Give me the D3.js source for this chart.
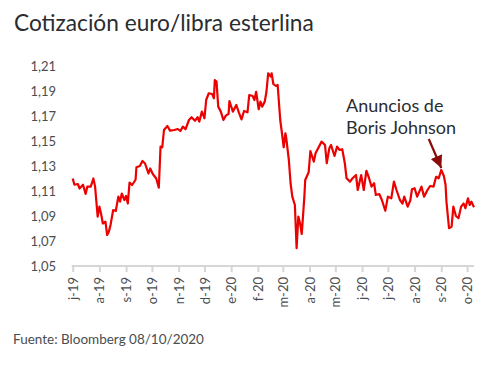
<!DOCTYPE html>
<html>
<head>
<meta charset="utf-8">
<script src="https://cdn.jsdelivr.net/npm/d3@7"></script>
<style>
  html, body { margin: 0; padding: 0; background: #fff; }
  svg text { font-family: Lato, "Open Sans", sans-serif; }
</style>
</head>
<body>
<div id="viz"></div>
<script>
// EUR/GBP quote (date, value)
const RATE_SERIES = [
  ["2019-07-01", 1.120], ["2019-07-03", 1.115], ["2019-07-07", 1.1156], ["2019-07-09", 1.112],
  ["2019-07-13", 1.115], ["2019-07-16", 1.1076], ["2019-07-18", 1.1135], ["2019-07-22", 1.1135],
  ["2019-07-25", 1.120], ["2019-07-27", 1.1135], ["2019-07-30", 1.0895], ["2019-08-01", 1.0975],
  ["2019-08-03", 1.0916], ["2019-08-05", 1.084], ["2019-08-08", 1.0855], ["2019-08-10", 1.0748],
  ["2019-08-12", 1.0775], ["2019-08-14", 1.083], ["2019-08-17", 1.0948], ["2019-08-20", 1.094],
  ["2019-08-23", 1.1055], ["2019-08-25", 1.1015], ["2019-08-27", 1.108], ["2019-08-30", 1.1028],
  ["2019-09-01", 1.106], ["2019-09-03", 1.100], ["2019-09-05", 1.1167], ["2019-09-08", 1.1148],
  ["2019-09-12", 1.119], ["2019-09-13", 1.129], ["2019-09-17", 1.130], ["2019-09-20", 1.134],
  ["2019-09-23", 1.132], ["2019-09-27", 1.124], ["2019-09-29", 1.128], ["2019-10-02", 1.1236],
  ["2019-10-06", 1.120], ["2019-10-09", 1.1127], ["2019-10-11", 1.1455], ["2019-10-13", 1.145],
  ["2019-10-15", 1.1588], ["2019-10-19", 1.162], ["2019-10-22", 1.1583], ["2019-10-27", 1.1588],
  ["2019-10-31", 1.1596], ["2019-11-03", 1.158], ["2019-11-06", 1.1615], ["2019-11-09", 1.1594],
  ["2019-11-13", 1.1668], ["2019-11-16", 1.169], ["2019-11-20", 1.1662], ["2019-11-23", 1.169],
  ["2019-11-25", 1.1655], ["2019-11-28", 1.1735], ["2019-12-01", 1.1682], ["2019-12-03", 1.1828],
  ["2019-12-06", 1.1882], ["2019-12-10", 1.1876], ["2019-12-12", 1.1842], ["2019-12-13", 1.1988],
  ["2019-12-15", 1.1975], ["2019-12-17", 1.1775], ["2019-12-20", 1.1735], ["2019-12-23", 1.1668],
  ["2019-12-26", 1.1705], ["2019-12-29", 1.1716], ["2019-12-30", 1.182], ["2020-01-03", 1.1735],
  ["2020-01-07", 1.1788], ["2020-01-10", 1.1727], ["2020-01-13", 1.1673], ["2020-01-16", 1.174],
  ["2020-01-20", 1.173], ["2020-01-22", 1.1868], ["2020-01-26", 1.186], ["2020-01-28", 1.1828],
  ["2020-01-30", 1.1894], ["2020-02-02", 1.1754], ["2020-02-04", 1.1815], ["2020-02-06", 1.1775],
  ["2020-02-09", 1.1815], ["2020-02-11", 1.1894], ["2020-02-13", 1.2042], ["2020-02-16", 1.2015],
  ["2020-02-17", 1.2042], ["2020-02-19", 1.1956], ["2020-02-22", 1.194], ["2020-02-24", 1.1948],
  ["2020-02-27", 1.1668], ["2020-02-29", 1.1562], ["2020-03-02", 1.145], ["2020-03-04", 1.1562],
  ["2020-03-05", 1.1522], ["2020-03-08", 1.1348], ["2020-03-10", 1.1162], ["2020-03-12", 1.1055],
  ["2020-03-15", 1.0988], ["2020-03-17", 1.0642], ["2020-03-19", 1.0895], ["2020-03-21", 1.0842],
  ["2020-03-23", 1.0756], ["2020-03-26", 1.1055], ["2020-03-27", 1.1188], ["2020-03-31", 1.125],
  ["2020-04-02", 1.142], ["2020-04-06", 1.1335], ["2020-04-08", 1.1402], ["2020-04-15", 1.1495],
  ["2020-04-19", 1.1468], ["2020-04-21", 1.1322], ["2020-04-24", 1.1442], ["2020-04-26", 1.1468],
  ["2020-04-30", 1.138], ["2020-05-03", 1.1455], ["2020-05-06", 1.1428], ["2020-05-09", 1.1434],
  ["2020-05-12", 1.1322], ["2020-05-14", 1.1202], ["2020-05-18", 1.1175], ["2020-05-21", 1.1202],
  ["2020-05-25", 1.1228], ["2020-05-27", 1.1108], ["2020-05-31", 1.1228], ["2020-06-03", 1.1108],
  ["2020-06-06", 1.1262], ["2020-06-09", 1.1206], ["2020-06-12", 1.1135], ["2020-06-15", 1.1162],
  ["2020-06-17", 1.1068], ["2020-06-21", 1.1076], ["2020-06-24", 1.1028], ["2020-06-28", 1.0942],
  ["2020-07-01", 1.1055], ["2020-07-05", 1.1042], ["2020-07-08", 1.1175], ["2020-07-11", 1.1108],
  ["2020-07-15", 1.1028], ["2020-07-18", 1.100], ["2020-07-20", 1.1055], ["2020-07-24", 1.0975],
  ["2020-07-27", 1.1024], ["2020-07-29", 1.1114], ["2020-08-01", 1.1122], ["2020-08-04", 1.1055],
  ["2020-08-09", 1.1135], ["2020-08-12", 1.1055], ["2020-08-16", 1.1108], ["2020-08-19", 1.114],
  ["2020-08-23", 1.1135], ["2020-08-26", 1.1214], ["2020-08-29", 1.1202], ["2020-09-01", 1.1268],
  ["2020-09-04", 1.122], ["2020-09-06", 1.1148], ["2020-09-07", 1.1015], ["2020-09-10", 1.0802],
  ["2020-09-13", 1.0815], ["2020-09-15", 1.0975], ["2020-09-18", 1.090], ["2020-09-21", 1.0882],
  ["2020-09-24", 1.0975], ["2020-09-27", 1.100], ["2020-09-29", 1.0962], ["2020-10-02", 1.1042],
  ["2020-10-04", 1.0988], ["2020-10-06", 1.1015], ["2020-10-09", 1.097]
];

const Y_TICKS = [1.05, 1.07, 1.09, 1.11, 1.13, 1.15, 1.17, 1.19, 1.21];
const MONTH_LETTERS = ["e", "f", "m", "a", "m", "j", "j", "a", "s", "o", "n", "d"];
const ANNOTATION_LINES = ["Anuncios de", "Boris Johnson"];
const ANNOTATION_DATE = "2020-09-01";

const WIDTH = 498;
const HEIGHT = 365;
const LINE_RED = "#ec0000";
const ARROW_RED = "#8b0a0a";
const AXIS_GREY = "#d6d6d6";
const TEXT_DARK = "#2a2d30";
const TEXT_MID = "#4a4d50";

const parse = d3.timeParse("%Y-%m-%d");
const points = RATE_SERIES.map(([d, v]) => ({ date: parse(d), value: v }));

const svg = d3.select("#viz").append("svg")
  .attr("width", WIDTH)
  .attr("height", HEIGHT);

const x = d3.scaleTime()
  .domain([parse("2019-07-01"), parse("2020-10-09")])
  .range([72.7, 474]);

const y = d3.scaleLinear()
  .domain([1.05, 1.21])
  .range([266, 66]);

// title
svg.append("text")
  .attr("x", 14)
  .attr("y", 31)
  .attr("fill", TEXT_DARK)
  .style("font-size", "22.7px")
  .text("Cotización euro/libra esterlina");

// y labels (no gridlines, no axis line)
svg.append("g")
  .selectAll("text")
  .data(Y_TICKS)
  .join("text")
  .attr("x", 56)
  .attr("y", d => y(d))
  .attr("dy", "0.36em")
  .attr("text-anchor", "end")
  .attr("fill", TEXT_MID)
  .style("font-size", "13px")
  .text(d => d3.format(".2f")(d).replace(".", ","));

// x axis
const monthTicks = d3.timeMonth.range(parse("2019-07-01"), parse("2020-10-02"));
const xAxis = d3.axisBottom(x)
  .tickValues(monthTicks)
  .tickSize(6)
  .tickSizeOuter(0)
  .tickFormat(d => MONTH_LETTERS[d.getMonth()] + "-" + d3.timeFormat("%y")(d));

const gx = svg.append("g")
  .attr("transform", "translate(0,266)")
  .call(xAxis);

gx.select(".domain")
  .attr("stroke", AXIS_GREY)
  .attr("stroke-width", 2)
  .attr("d", `M${x.range()[0] - 1},0H${x.range()[1]}`);
gx.selectAll(".tick line")
  .attr("stroke", AXIS_GREY)
  .attr("stroke-width", 2);
gx.selectAll(".tick text")
  .attr("fill", TEXT_MID)
  .style("font-size", "13px")
  .style("font-family", "Lato, sans-serif")
  .attr("text-anchor", "end")
  .attr("transform", "rotate(-90)")
  .attr("x", -11)
  .attr("y", 0)
  .attr("dy", "0.35em");

// series
const line = d3.line()
  .x(d => x(d.date))
  .y(d => y(d.value));

svg.append("path")
  .datum(points)
  .attr("fill", "none")
  .attr("stroke", LINE_RED)
  .attr("stroke-width", 2.2)
  .attr("stroke-linejoin", "round")
  .attr("d", line);

// annotation
const note = svg.append("text")
  .attr("fill", TEXT_DARK)
  .style("font-size", "18px");
ANNOTATION_LINES.forEach((t, i) => {
  note.append("tspan")
    .attr("x", 346)
    .attr("y", 112 + i * 22)
    .text(t);
});

svg.append("defs").append("marker")
  .attr("id", "arrowhead")
  .attr("viewBox", "0 0 10 10")
  .attr("refX", 10)
  .attr("refY", 5)
  .attr("markerWidth", 5.6)
  .attr("markerHeight", 5.6)
  .attr("markerUnits", "strokeWidth")
  .attr("orient", "auto")
  .append("path")
  .attr("d", "M0,0L10,5L0,10Z")
  .attr("fill", ARROW_RED);

const tipX = x(parse(ANNOTATION_DATE));
const tipY = y(1.1268) - 2;
svg.append("line")
  .attr("x1", tipX - 12.5)
  .attr("y1", tipY - 29)
  .attr("x2", tipX)
  .attr("y2", tipY)
  .attr("stroke", ARROW_RED)
  .attr("stroke-width", 2.2)
  .attr("marker-end", "url(#arrowhead)");

// source
svg.append("text")
  .attr("x", 13)
  .attr("y", 344)
  .attr("fill", TEXT_MID)
  .style("font-size", "13.5px")
  .text("Fuente: Bloomberg 08/10/2020");
</script>
</body>
</html>
